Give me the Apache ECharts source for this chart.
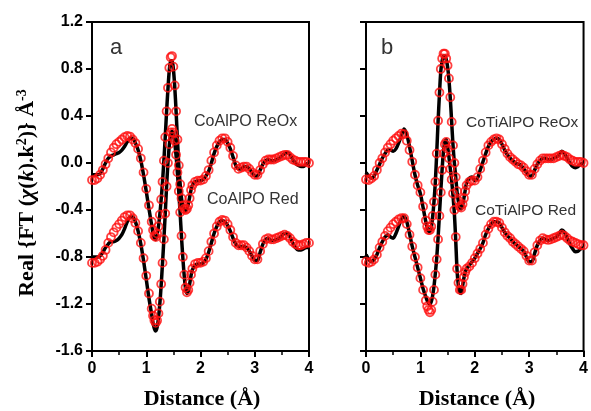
<!DOCTYPE html>
<html>
<head>
<meta charset="utf-8">
<script src="https://cdn.jsdelivr.net/npm/echarts@6/dist/echarts.min.js"></script>
<style>
html,body{margin:0;padding:0;background:#fff;}
#c{width:591px;height:411px;}
</style>
</head>
<body>
<div id="c"></div>
<script>
// Distance grid (Å)
const R = [
  0,0.05,0.1,0.15,0.2,0.25,0.3,0.35,0.4,0.45,0.5,0.55,0.6,0.65,0.7,0.75,0.8,0.85,0.9,0.95,
  1.0,1.05,1.1,
  1.125,1.15,1.175,1.2,1.225,1.25,1.275,1.3,1.325,1.35,1.375,1.4,1.425,1.45,1.475,1.5,
  1.525,1.55,1.575,1.6,1.625,1.65,1.675,1.7,1.725,1.75,1.775,1.8,1.825,1.85,
  1.9,1.95,2.0,2.05,2.1,2.15,2.2,2.25,2.3,2.35,2.4,2.45,2.5,2.55,2.6,2.65,2.7,2.75,2.8,2.85,2.9,2.95,
  3.0,3.05,3.1,3.15,3.2,3.25,3.3,3.35,3.4,3.45,3.5,3.55,3.6,3.65,3.7,3.75,3.8,3.85,3.9,3.95,4.0
];

// Panel a: CoAlPO ReOx
const aOxCircles = [
  -0.145,-0.145,-0.13,-0.10,-0.06,-0.01,0.04,0.09,0.13,0.16,0.18,0.20,0.22,0.23,0.225,0.20,0.17,0.12,0.04,-0.08,
  -0.22,-0.36,-0.50,
  -0.57,-0.62,-0.63,-0.60,-0.54,-0.44,-0.31,-0.16,0.02,0.22,0.44,0.64,0.81,0.90,0.91,0.82,
  0.66,0.44,0.20,-0.02,-0.18,-0.30,-0.36,-0.39,-0.40,-0.39,-0.36,-0.30,-0.23,-0.19,
  -0.16,-0.15,-0.15,-0.14,-0.11,-0.06,0.02,0.09,0.15,0.19,0.21,0.21,0.18,0.13,0.06,-0.02,-0.05,-0.04,-0.03,-0.03,-0.05,-0.08,
  -0.10,-0.10,-0.06,-0.01,0.02,0.03,0.03,0.03,0.04,0.05,0.06,0.07,0.07,0.05,0.03,0.02,0.01,0.01,0.01,0.01,0.00
];
const aOxLine = [
  -0.10,-0.10,-0.10,-0.09,-0.05,0.00,0.04,0.06,0.07,0.08,0.09,0.11,0.14,0.18,0.21,0.21,0.17,0.11,0.02,-0.10,
  -0.24,-0.39,-0.53,
  -0.60,-0.64,-0.65,-0.61,-0.54,-0.44,-0.31,-0.16,0.02,0.22,0.44,0.63,0.79,0.87,0.87,0.80,
  0.65,0.44,0.20,-0.02,-0.18,-0.30,-0.37,-0.40,-0.41,-0.39,-0.35,-0.29,-0.23,-0.19,
  -0.16,-0.15,-0.15,-0.14,-0.11,-0.07,0.00,0.08,0.14,0.18,0.20,0.20,0.17,0.12,0.05,-0.02,-0.05,-0.05,-0.03,-0.03,-0.05,-0.08,
  -0.11,-0.11,-0.06,-0.01,0.02,0.03,0.02,0.02,0.03,0.04,0.06,0.08,0.09,0.07,0.03,0.00,-0.02,-0.03,-0.03,-0.01,0.00
];
// Panel a: CoAlPO Red
const aRedCircles = [
  -0.85,-0.85,-0.84,-0.82,-0.79,-0.74,-0.68,-0.63,-0.59,-0.55,-0.52,-0.49,-0.46,-0.445,-0.445,-0.47,-0.51,-0.58,-0.68,-0.81,
  -0.96,-1.11,-1.24,
  -1.30,-1.34,-1.36,-1.34,-1.28,-1.18,-1.03,-0.85,-0.65,-0.43,-0.20,0.00,0.16,0.26,0.29,0.26,
  0.19,0.07,-0.08,-0.24,-0.42,-0.62,-0.80,-0.95,-1.06,-1.10,-1.08,-1.02,-0.95,-0.90,
  -0.86,-0.85,-0.85,-0.84,-0.81,-0.75,-0.67,-0.60,-0.54,-0.50,-0.485,-0.49,-0.52,-0.57,-0.63,-0.68,-0.70,-0.70,-0.70,-0.72,-0.75,-0.79,
  -0.82,-0.82,-0.75,-0.69,-0.65,-0.64,-0.65,-0.65,-0.64,-0.63,-0.62,-0.61,-0.62,-0.64,-0.67,-0.69,-0.70,-0.70,-0.69,-0.68,-0.68
];
const aRedLine = [
  -0.80,-0.80,-0.80,-0.79,-0.76,-0.72,-0.69,-0.67,-0.67,-0.66,-0.64,-0.61,-0.56,-0.50,-0.46,-0.46,-0.50,-0.58,-0.69,-0.83,
  -0.99,-1.15,-1.29,
  -1.36,-1.41,-1.43,-1.40,-1.32,-1.20,-1.04,-0.85,-0.65,-0.43,-0.20,0.00,0.15,0.24,0.27,0.24,
  0.17,0.06,-0.09,-0.25,-0.43,-0.63,-0.81,-0.96,-1.07,-1.11,-1.09,-1.03,-0.96,-0.91,
  -0.87,-0.86,-0.86,-0.85,-0.82,-0.76,-0.68,-0.60,-0.54,-0.50,-0.49,-0.50,-0.53,-0.58,-0.64,-0.69,-0.71,-0.71,-0.71,-0.72,-0.75,-0.79,
  -0.83,-0.83,-0.76,-0.69,-0.65,-0.64,-0.66,-0.66,-0.65,-0.64,-0.62,-0.60,-0.60,-0.63,-0.68,-0.72,-0.74,-0.74,-0.73,-0.72,-0.72
];
// Panel b: CoTiAlPO ReOx
const bOxCircles = [
  -0.14,-0.145,-0.13,-0.11,-0.06,0.00,0.04,0.09,0.13,0.16,0.19,0.21,0.23,0.25,0.245,0.19,0.11,0.01,-0.10,-0.19,
  -0.25,-0.37,-0.49,
  -0.54,-0.57,-0.57,-0.54,-0.45,-0.33,-0.16,0.08,0.36,0.60,0.80,0.89,0.93,0.93,0.89,0.83,
  0.72,0.56,0.35,0.15,0.00,-0.12,-0.24,-0.32,-0.37,-0.38,-0.35,-0.30,-0.24,-0.19,
  -0.16,-0.15,-0.15,-0.12,-0.05,0.02,0.09,0.15,0.18,0.20,0.21,0.20,0.16,0.12,0.08,0.05,0.03,0.01,-0.01,-0.02,-0.04,-0.07,
  -0.10,-0.10,-0.05,-0.01,0.02,0.04,0.04,0.04,0.04,0.04,0.05,0.06,0.07,0.06,0.05,0.03,0.02,0.01,0.01,0.01,0.00
];
const bOxLine = [
  -0.08,-0.11,-0.13,-0.11,-0.06,-0.01,0.04,0.08,0.11,0.11,0.10,0.12,0.17,0.23,0.29,0.24,0.14,0.02,-0.10,-0.19,
  -0.26,-0.38,-0.50,
  -0.55,-0.58,-0.58,-0.55,-0.46,-0.33,-0.16,0.08,0.35,0.58,0.78,0.87,0.91,0.91,0.88,0.82,
  0.71,0.55,0.35,0.15,0.00,-0.12,-0.25,-0.33,-0.38,-0.39,-0.36,-0.30,-0.23,-0.17,
  -0.13,-0.12,-0.15,-0.13,-0.06,0.01,0.08,0.14,0.18,0.20,0.21,0.20,0.16,0.11,0.07,0.04,0.02,0.00,-0.01,-0.02,-0.05,-0.08,
  -0.11,-0.11,-0.06,-0.01,0.02,0.04,0.04,0.03,0.03,0.04,0.05,0.07,0.10,0.08,0.04,0.00,-0.03,-0.04,-0.03,-0.01,0.00
];
// Panel b: CoTiAlPO Red
const bRedCircles = [
  -0.84,-0.85,-0.84,-0.82,-0.78,-0.72,-0.67,-0.62,-0.58,-0.55,-0.52,-0.50,-0.48,-0.47,-0.47,-0.52,-0.61,-0.71,-0.80,-0.89,
  -0.98,-1.08,-1.17,
  -1.22,-1.25,-1.27,-1.25,-1.18,-1.08,-0.95,-0.82,-0.65,-0.45,-0.25,-0.06,0.08,0.16,0.18,0.12,
  0.04,-0.05,-0.14,-0.26,-0.40,-0.63,-0.90,-1.02,-1.08,-1.08,-1.03,-0.97,-0.93,-0.90,
  -0.88,-0.85,-0.81,-0.77,-0.73,-0.68,-0.61,-0.56,-0.52,-0.50,-0.50,-0.51,-0.55,-0.59,-0.62,-0.64,-0.67,-0.69,-0.71,-0.73,-0.75,-0.79,
  -0.83,-0.83,-0.76,-0.70,-0.66,-0.64,-0.65,-0.655,-0.65,-0.64,-0.63,-0.62,-0.61,-0.62,-0.64,-0.66,-0.67,-0.68,-0.69,-0.70,-0.70
];
const bRedLine = [
  -0.78,-0.82,-0.84,-0.82,-0.78,-0.72,-0.67,-0.63,-0.61,-0.63,-0.64,-0.60,-0.54,-0.48,-0.45,-0.50,-0.60,-0.71,-0.80,-0.89,
  -0.98,-1.07,-1.14,
  -1.17,-1.19,-1.20,-1.18,-1.13,-1.05,-0.94,-0.81,-0.64,-0.44,-0.24,-0.05,0.10,0.18,0.20,0.14,
  0.05,-0.05,-0.15,-0.28,-0.43,-0.66,-0.92,-1.05,-1.10,-1.11,-1.05,-0.98,-0.93,-0.90,
  -0.87,-0.84,-0.81,-0.77,-0.73,-0.68,-0.61,-0.56,-0.52,-0.50,-0.50,-0.51,-0.55,-0.59,-0.62,-0.64,-0.67,-0.69,-0.71,-0.73,-0.75,-0.80,
  -0.84,-0.84,-0.77,-0.70,-0.66,-0.64,-0.65,-0.66,-0.65,-0.64,-0.63,-0.60,-0.57,-0.59,-0.64,-0.69,-0.73,-0.755,-0.75,-0.73,-0.72
];

const xTicks = [0, 1, 2, 3, 4];
const yTicks = [-1.6, -1.2, -0.8, -0.4, 0.0, 0.4, 0.8, 1.2];
const panelLetters = ['a', 'b'];
const curveLabels = ['CoAlPO ReOx', 'CoAlPO Red', 'CoTiAlPO ReOx', 'CoTiAlPO Red'];

function pairs(ys) { return R.map((x, i) => [x, ys[i]]); }

const chart = echarts.init(document.getElementById('c'), null, {renderer: 'canvas'});

const SANS = 'Liberation Sans, Arial, sans-serif';
const SERIF = 'Liberation Serif, Times New Roman, serif';
const RED = '#ff1010';

function xAxis(gi) {
  return {
    type: 'value', gridIndex: gi, min: xTicks[0], max: xTicks[xTicks.length - 1], interval: 1,
    axisLine: {onZero: false, lineStyle: {color: '#000', width: 2}},
    axisTick: {show: true, inside: false, length: 6, lineStyle: {color: '#000', width: 2}},
    minorTick: {show: true, splitNumber: 2, length: 4, lineStyle: {color: '#000', width: 1.5}},
    axisLabel: {color: '#000', fontFamily: SANS, fontWeight: 'bold', fontSize: 16, margin: 10},
    splitLine: {show: false}
  };
}
function yAxis(gi, showLabels) {
  return {
    type: 'value', gridIndex: gi, min: yTicks[0], max: yTicks[yTicks.length - 1], interval: 0.4,
    axisLine: {onZero: false, lineStyle: {color: '#000', width: 2}},
    axisTick: {show: true, inside: false, length: 6, lineStyle: {color: '#000', width: 2}},
    axisLabel: {show: showLabels, color: '#000', fontFamily: SANS, fontWeight: 'bold', fontSize: 16, margin: 9,
      formatter: v => (Math.abs(v) < 1e-9 ? '0.0' : v.toFixed(1))},
    splitLine: {show: false}
  };
}
function lineSeries(gi, ys) {
  return {type: 'line', xAxisIndex: gi, yAxisIndex: gi, data: pairs(ys), smooth: 0.3, showSymbol: false,
    lineStyle: {color: '#000', width: 3.5}, z: 2, silent: true};
}
function circleSeries(gi, ys) {
  return {type: 'scatter', xAxisIndex: gi, yAxisIndex: gi, data: pairs(ys), symbol: 'circle', symbolSize: 8,
    itemStyle: {color: 'rgba(0,0,0,0)', borderColor: RED, borderWidth: 1.8}, z: 3, silent: true};
}

const labelStyle = (t, x, y, size) => ({
  type: 'text', x: x, y: y,
  style: {text: t, fill: '#333', font: 'normal ' + size + 'px ' + SANS, verticalAlign: 'middle', align: 'left'}
});

chart.setOption({
  animation: false,
  grid: [
    {left: 92, top: 22, width: 217, height: 329, show: true, borderColor: '#000', borderWidth: 2, backgroundColor: 'transparent'},
    {left: 366, top: 22, width: 220, height: 329, show: true, borderColor: '#000', borderWidth: 2, backgroundColor: 'transparent'}
  ],
  xAxis: [xAxis(0), xAxis(1)],
  yAxis: [yAxis(0, true), yAxis(1, false)],
  series: [
    lineSeries(0, aOxLine), lineSeries(0, aRedLine),
    circleSeries(0, aOxCircles), circleSeries(0, aRedCircles),
    lineSeries(1, bOxLine), lineSeries(1, bRedLine),
    circleSeries(1, bOxCircles), circleSeries(1, bRedCircles)
  ],
  graphic: [
    labelStyle(panelLetters[0], 110, 48, 22),
    labelStyle(panelLetters[1], 381, 48, 22),
    labelStyle(curveLabels[0], 194, 122, 16),
    labelStyle(curveLabels[1], 207, 200, 16),
    labelStyle(curveLabels[2], 466, 123, 15.5),
    labelStyle(curveLabels[3], 475, 211, 15.5),
    {type: 'text', x: 202, y: 399, style: {text: 'Distance (Å)', fill: '#000', font: 'bold 22px ' + SERIF, align: 'center', verticalAlign: 'middle'}},
    {type: 'text', x: 477, y: 399, style: {text: 'Distance (Å)', fill: '#000', font: 'bold 22px ' + SERIF, align: 'center', verticalAlign: 'middle'}},
    {type: 'text', x: 27, y: 193, rotation: Math.PI / 2,
      style: {
        text: 'Real {FT (' + '{i|χ}' + '(' + '{i|k}' + ').k' + '{s|2}' + ')} Å' + '{s|-3}',
        fill: '#000', font: 'bold 22px ' + SERIF, align: 'center', verticalAlign: 'middle',
        rich: {
          i: {fontFamily: SERIF, fontWeight: 'bold', fontStyle: 'italic', fontSize: 22, fill: '#000'},
          s: {fontFamily: SERIF, fontWeight: 'bold', fontSize: 14, fill: '#000', verticalAlign: 'top', padding: [0, 0, 10, 0]}
        }
      }}
  ]
});
</script>
</body>
</html>
